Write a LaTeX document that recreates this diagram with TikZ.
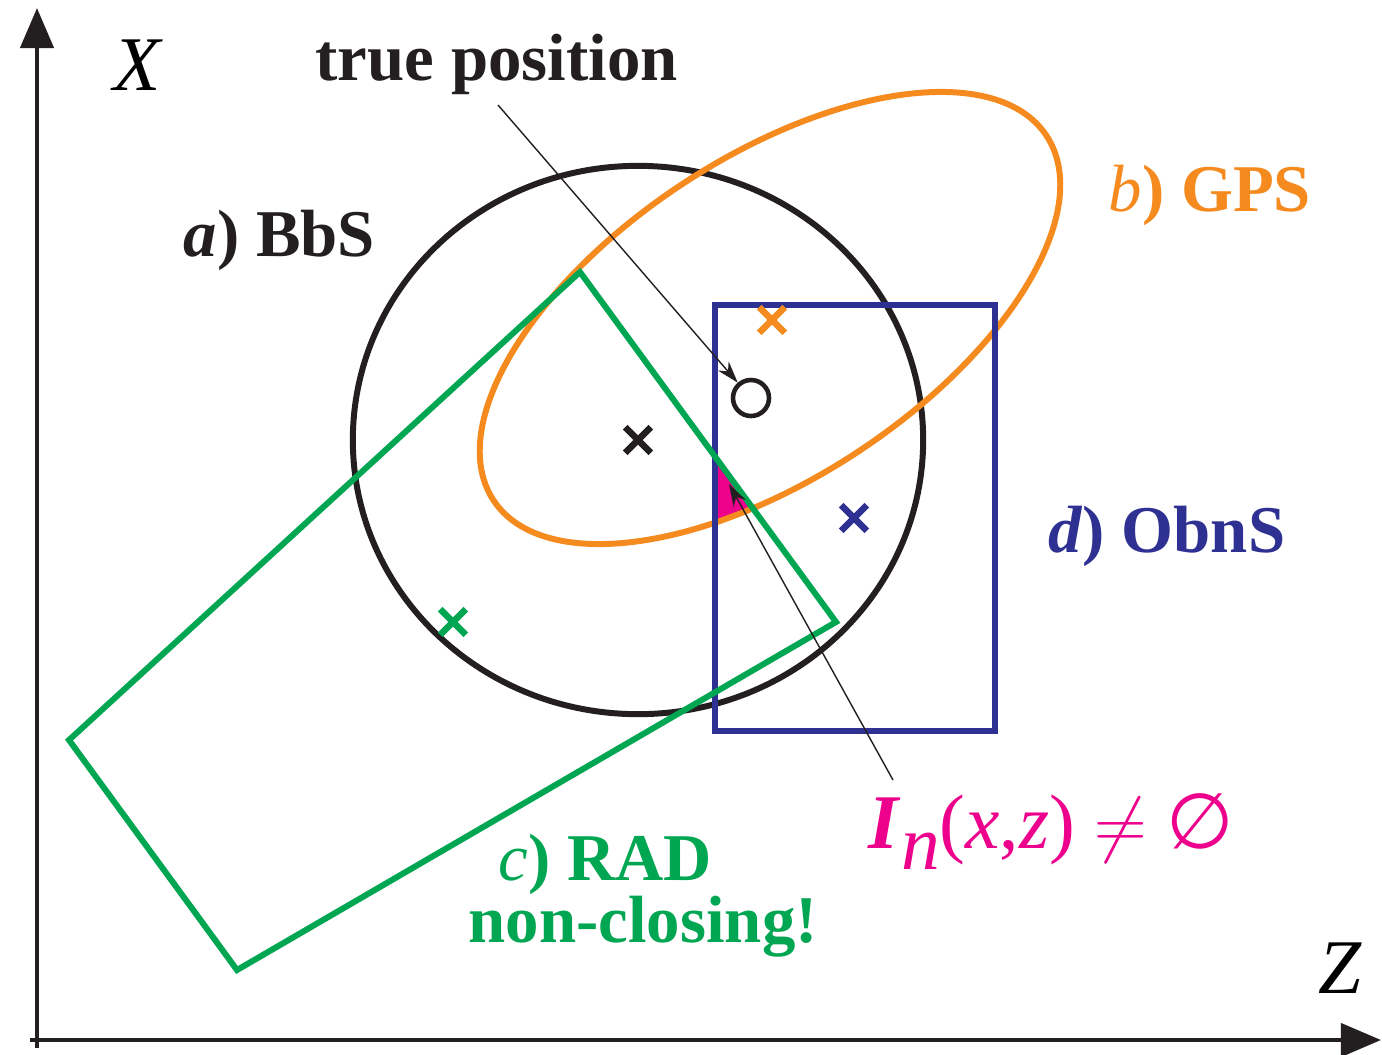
\documentclass[tikz,border=0pt]{standalone}
\usepackage{amsmath,amssymb}
\usepackage{fontspec}
\setmainfont{Liberation Serif}
\newfontfamily\symfont{DejaVu Sans}
\usepackage{tikz}
\usetikzlibrary{arrows.meta,shapes.misc}
\definecolor{bbsblack}{RGB}{35,31,32}
\definecolor{gpsorange}{RGB}{245,138,31}
\definecolor{radgreen}{RGB}{0,166,81}
\definecolor{obnblue}{RGB}{46,49,146}
\definecolor{intmagenta}{RGB}{236,0,140}
\tikzset{every picture/.append style={font=\fontsize{19}{22}\selectfont\bfseries}}
\tikzset{
  lbl/.style={anchor=base west,inner sep=0pt},
  xmark/.style={cross out,draw,line width=1.9pt,minimum size=0.19cm,inner sep=0pt},
  region/.style={line width=1.7pt},
  axis/.style={line width=1.2pt,-{Triangle[length=0.4cm,width=0.33cm]}},
  pointer/.style={line width=0.4pt,-{Stealth[length=0.22cm,width=0.14cm]}}
}

\begin{document}
\begin{tikzpicture}[x=0.01cm,y=-0.01cm]
    \useasboundingbox (0,0) rectangle (1382,1054);
    % axes
    \coordinate (orig) at (37,1048);
    \coordinate (xtip) at (37,8);
    \coordinate (zorig) at (30,1040);
    \coordinate (ztip) at (1381,1040);
    \draw[axis,bbsblack] (orig) -- (xtip);
    \draw[axis,bbsblack] (zorig) -- (ztip);
    \node[lbl,font=\fontsize{22}{26}\selectfont\itshape] (xlbl) at (113,90) {X};
    \node[lbl,font=\fontsize{22}{26}\selectfont\itshape] (zlbl) at (1318,993) {Z};

    \coordinate (bbsc) at (638,440);
    \coordinate (gpsc) at (770,318);
    \coordinate (r1) at (580,272);
    \coordinate (r2) at (836,622);
    \coordinate (r3) at (237,970);
    \coordinate (r4) at (69,740);
    \coordinate (d1) at (715,305);
    \coordinate (d2) at (995,731);

    % common part of the four regions
    \begin{scope}
      \clip[rotate around={33.4:(gpsc)}] (gpsc) ellipse [x radius=3.31cm,y radius=1.6cm];
      \clip (r1) -- (r2) -- (r3) -- (r4) -- cycle;
      \fill[intmagenta] (d1) rectangle (d2);
    \end{scope}

    \draw[region,bbsblack] (bbsc) ellipse [x radius=2.85cm,y radius=2.74cm];
    \draw[region,gpsorange,rotate around={33.4:(gpsc)}] (gpsc) ellipse [x radius=3.31cm,y radius=1.6cm];
    \draw[region,obnblue] (d1) rectangle (d2);
    \draw[region,radgreen] (r1) -- (r2) -- (r3) -- (r4) -- cycle;

    \node[xmark,bbsblack] (bbsx) at (bbsc) {};
    \node[xmark,gpsorange] (gpsx) at (772,320) {};
    \node[xmark,obnblue] (obnx) at (854,518) {};
    \node[xmark,radgreen] (radx) at (453,622) {};
    \node[circle,draw,bbsblack,line width=1.3pt,minimum size=0.36cm,inner sep=0pt] (truepos) at (751,398) {};

    \coordinate (tptail) at (498,105);
    \coordinate (intail) at (893,780);
    \coordinate (intip) at (729,484);
    \draw[pointer,bbsblack] (tptail) -- (truepos);
    \draw[pointer,bbsblack] (intail) -- (intip);

    \node[lbl,bbsblack] (truelbl) at (315,80) {true position};
    \node[lbl,bbsblack] (bbslbl) at (183,256) {\textit{a}) BbS};
    \node[lbl,gpsorange] (gpslbl) at (1108,211) {\textit{\mdseries b}) GPS};
    \node[lbl,obnblue] (obnlbl) at (1048,552) {\textit{d}) ObnS};
    \node[lbl,radgreen] (radlbl) at (498,880) {\textit{\mdseries c}) RAD};
    \node[lbl,radgreen] (radnote) at (468,942) {non-closing!};
    \node[lbl,intmagenta,font=\fontsize{22}{26}\selectfont] (intlbl) at (868,848)
      {\textbf{\textit{I}}\raisebox{-0.6ex}{\textit{n}}(\textit{x},\textit{z}) $\neq$ {\symfont ∅}};
\end{tikzpicture}
\end{document}
